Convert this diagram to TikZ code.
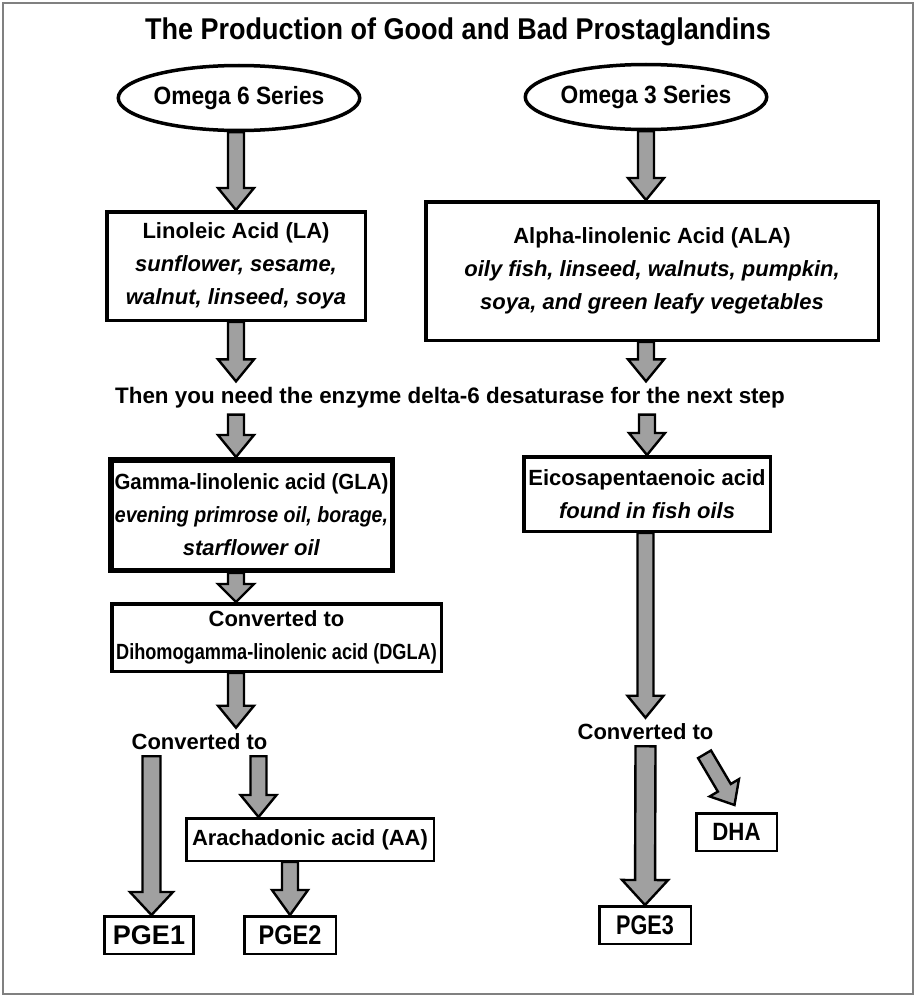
\documentclass[tikz,border=0pt]{standalone}
\usepackage{xcolor}
\usepackage{graphicx}
\usepackage{fontspec}
\setmainfont{Liberation Sans}
\usetikzlibrary{shapes.geometric,calc}
\definecolor{shaftgray}{RGB}{160,160,160}

\begin{document}
\begin{tikzpicture}[x=1pt,y=-1pt,font=\bfseries\fontsize{22}{33}\selectfont]
			\tikzstyle{series} = [ellipse, draw, line width=3.5pt, minimum width=194pt, minimum height=65pt, inner sep=0pt, font=\bfseries\fontsize{25}{30}\selectfont]
			\tikzstyle{acid} = [draw, line width=3.5pt, align=center, inner sep=0pt, fill=white]
			\tikzstyle{pge} = [draw, line width=2.5pt, minimum width=89pt, minimum height=37.5pt, inner sep=0pt, font=\bfseries\fontsize{27}{30}\selectfont]
			\tikzstyle{note} = [align=center, inner xsep=0pt, inner ysep=6pt]
			\tikzset{arrshaft/.store in=\arrshaft, arrhead/.store in=\arrhead, arrlen/.store in=\arrlen,
				arrshaft=8pt, arrhead=18pt, arrlen=22pt}
			\tikzset{edge/.style = {draw, fill=shaftgray, line width=2.4pt, line join=miter,
				to path={($(\tikztostart)!\arrshaft!90:(\tikztotarget)$)
					-- ($(\tikztotarget)!\arrlen!(\tikztostart)!\arrshaft!90:(\tikztotarget)$)
					-- ($(\tikztotarget)!\arrlen!(\tikztostart)!\arrhead!90:(\tikztotarget)$)
					-- (\tikztotarget)
					-- ($(\tikztotarget)!\arrlen!(\tikztostart)!\arrhead!-90:(\tikztotarget)$)
					-- ($(\tikztotarget)!\arrlen!(\tikztostart)!\arrshaft!-90:(\tikztotarget)$)
					-- ($(\tikztostart)!\arrshaft!-90:(\tikztotarget)$) -- cycle}}}
			\tikzset{bigedge/.style = {edge, arrshaft=9pt, arrhead=21.5pt, arrlen=23pt}}
			
			\useasboundingbox (0,0) rectangle (917,998);
			\draw[gray, line width=1.5pt] (3,3) rectangle (913,994);
			
			\node(title) at (458,32) {\fontsize{30}{36}\selectfont\scalebox{0.9}[1]{The Production of Good and Bad Prostaglandins}};
			
			\node[series](omega6) at (239,98) {\scalebox{0.91}[1]{Omega 6 Series}};
			\node[series](omega3) at (646,97) {\scalebox{0.91}[1]{Omega 3 Series}};
			\node[acid, minimum width=258.5pt, minimum height=108.5pt](la) at (236,266) {Linoleic Acid (LA)\\ \textit{sunflower, sesame,}\\ \textit{walnut, linseed, soya}};
			\node[acid, minimum width=452.5pt, minimum height=138.5pt](ala) at (652,271) {Alpha-linolenic Acid (ALA)\\ \textit{oily fish, linseed, walnuts, pumpkin,}\\ \textit{soya, and green leafy vegetables}};
			\draw[edge](la.north |- omega6.south) to (la.north);
			\draw[edge](omega3.south) to (omega3.south |- ala.north);
			
			\node[note, font=\bfseries\fontsize{22.4}{33}\selectfont](then) at (450,398) {Then you need the enzyme delta-6 desaturase for the next step};
			\draw[edge](la.south) to (la.south |- then.north);
			\draw[edge](omega3.south |- ala.south) to (omega3.south |- then.north);
			
			\node[acid, line width=5.5pt, minimum width=281.5pt, minimum height=110.5pt](gla) at (251.5,515) {\scalebox{0.93}[1]{Gamma-linolenic acid (GLA)}\\ \scalebox{0.89}[1]{\textit{evening primrose oil, borage,}}\\ \textit{starflower oil}};
			\node[acid, minimum width=246.5pt, minimum height=74.5pt](epa) at (647,494) {Eicosapentaenoic acid\\ \textit{found in fish oils}};
			\draw[edge](la.south |- then.south) to (la.south |- gla.north);
			\draw[edge](epa.north |- then.south) to (epa.north);
			
			\node[acid, minimum width=329.5pt, minimum height=67.5pt](dgla) at (276.5,637.5) {Converted to\\ \scalebox{0.825}[1]{Dihomogamma-linolenic acid (DGLA)}};
			\draw[edge, arrlen=18pt](la.south |- gla.south) to (la.south |- dgla.north);
			
			\node[note](conv6) at (199.5,742) {Converted to};
			\node[note](conv3) at (645.5,732) {Converted to};
			\draw[edge](la.south |- dgla.south) to (la.south |- conv6.north);
			\draw[edge](conv3.north |- epa.south) to (conv3.north);
			
			\node[acid, line width=2.5pt, minimum width=247.5pt, minimum height=42.5pt](aa) at (310,839.5) {Arachadonic acid (AA)};
			\node[pge](pge1) at (149,935) {PGE1};
			\node[pge, minimum width=91.5pt](pge2) at (290,935) {\scalebox{0.87}[1]{PGE2}};
			\node[pge, minimum width=91.5pt](pge3) at (645,925) {\scalebox{0.8}[1]{PGE3}};
			\node[pge, minimum width=80.5pt, font=\bfseries\fontsize{25}{30}\selectfont](dha) at (736.5,832) {\scalebox{0.89}[1]{DHA}};
			\draw[bigedge]([xshift=20pt]conv6.south west) to ([xshift=20pt]conv6.south west |- pge1.north);
			\draw[edge]([xshift=-9pt]conv6.south east) to ([xshift=-9pt]conv6.south east |- aa.north);
			\draw[edge, arrlen=25pt](pge2.north |- aa.south) to (pge2.north);
			\draw[bigedge, arrshaft=10pt, arrhead=23pt, arrlen=25pt](conv3.south) to (pge3.north);
			\draw[edge, arrshaft=7.5pt, arrhead=17pt, arrlen=20pt]([shift={(-9,8)}]conv3.south east) to ([xshift=-2pt,yshift=7pt]dha.north);
			
\end{tikzpicture}
\end{document}
